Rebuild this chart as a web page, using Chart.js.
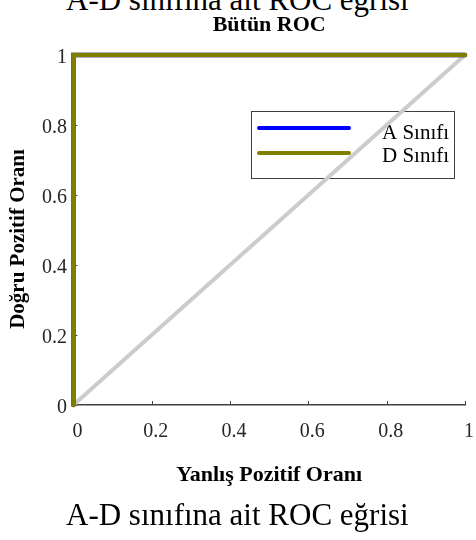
<!DOCTYPE html>
<html lang="tr">
<head>
<meta charset="utf-8">
<title>A-D sınıfına ait ROC eğrisi</title>
<script src="https://cdn.jsdelivr.net/npm/chart.js@4.4.1/dist/chart.umd.min.js"></script>
<style>
  body { margin: 0; background: #fff; }
  #wrap { position: relative; width: 476px; height: 540px; overflow: hidden; }
  #roc { position: absolute; left: 0; top: 0; }
  .caption {
    position: absolute; left: 66px; white-space: nowrap; color: #000;
    font: 31px/30px "Liberation Serif", "Times New Roman", serif;
  }
  #cap-top { top: -15px; }
  #cap-bottom { top: 500px; }
</style>
</head>
<body>
<div id="wrap">
  <div class="caption" id="cap-top">A-D sınıfına ait ROC eğrisi</div>
  <canvas id="roc" width="476" height="540"></canvas>
  <div class="caption" id="cap-bottom">A-D sınıfına ait ROC eğrisi</div>
</div>
<script>
const serif = '"Liberation Serif", "Times New Roman", serif';

// ROC eğrisi noktaları (yanlış pozitif oranı -> doğru pozitif oranı)
const fpr = [0, 0, 1];
const tprA = [0, 1, 1];
const tprD = [0, 1, 1];
// rastgele sınıflandırıcı köşegeni
const chanceX = [0, 1];
const chanceY = [0, 1];

const seriesNames = ["A Sınıfı", "D Sınıfı"];
const seriesColors = ["#0000ff", "#808000"];
const tickLabels = ["0", "0.2", "0.4", "0.6", "0.8", "1"];
const yTitle = "Doğru Pozitif Oranı";

const toPoints = (xs, ys) => xs.map((x, i) => ({ x, y: ys[i] }));

// eksenin içine bakan kısa çentikler
const innerTicks = {
  id: "innerTicks",
  beforeDatasetsDraw(chart) {
    const { ctx, chartArea, scales } = chart;
    ctx.save();
    ctx.strokeStyle = "#404040";
    ctx.lineWidth = 1;
    ctx.beginPath();
    scales.x.ticks.forEach((t) => {
      const px = Math.round(scales.x.getPixelForValue(t.value)) + 0.5;
      ctx.moveTo(px, chartArea.bottom);
      ctx.lineTo(px, chartArea.bottom - 4);
    });
    scales.y.ticks.forEach((t) => {
      const py = Math.round(scales.y.getPixelForValue(t.value)) + 0.5;
      ctx.moveTo(chartArea.left, py);
      ctx.lineTo(chartArea.left + 4, py);
    });
    ctx.stroke();
    ctx.restore();
  },
};

// dikey eksen başlığı, grafiğin ortasından biraz aşağıda
const yAxisTitle = {
  id: "yAxisTitle",
  afterDraw(chart) {
    const { ctx, chartArea } = chart;
    const cy = (chartArea.top + chartArea.bottom) / 2 + 9;
    ctx.save();
    ctx.translate(19, cy);
    ctx.rotate(-Math.PI / 2);
    ctx.font = `bold 21px ${serif}`;
    ctx.fillStyle = "#000";
    ctx.textAlign = "center";
    ctx.textBaseline = "middle";
    ctx.fillText(yTitle, 0, 0);
    ctx.restore();
  },
};

// çerçeveli lejant, çizgilerin altında kalıyor
const legendBox = {
  id: "legendBox",
  beforeDatasetsDraw(chart) {
    const ctx = chart.ctx;
    const box = { x: 251, y: 111, w: 203, h: 67 };
    ctx.save();
    ctx.strokeStyle = "#404040";
    ctx.lineWidth = 1;
    ctx.strokeRect(box.x + 0.5, box.y + 0.5, box.w, box.h);
    ctx.font = `21px ${serif}`;
    ctx.fillStyle = "#000";
    ctx.textBaseline = "middle";
    ctx.lineCap = "round";
    const items = chart.data.datasets.filter((d) => seriesNames.includes(d.label));
    items.forEach((ds, i) => {
      const lineY = box.y + 17 + i * 25;
      ctx.strokeStyle = ds.borderColor;
      ctx.lineWidth = 4;
      ctx.beginPath();
      ctx.moveTo(box.x + 8, lineY);
      ctx.lineTo(box.x + 98, lineY);
      ctx.stroke();
      ctx.fillText(ds.label, box.x + 131, box.y + 22 + i * 23);
    });
    ctx.restore();
  },
};

const lineStyle = {
  showLine: true,
  pointRadius: 0,
  fill: false,
  tension: 0,
  clip: false,
  borderJoinStyle: "miter",
  borderCapStyle: "round",
};

const noEdgePadding = (s) => {
  s.paddingLeft = 0;
  s.paddingRight = 0;
  s.paddingTop = 0;
  s.paddingBottom = 0;
};

new Chart(document.getElementById("roc"), {
  type: "scatter",
  data: {
    datasets: [
      { ...lineStyle, label: "chance", data: toPoints(chanceX, chanceY), borderColor: "#cccccc", borderWidth: 4, order: 3 },
      { ...lineStyle, label: seriesNames[0], data: toPoints(fpr, tprA), borderColor: seriesColors[0], borderWidth: 4.5, order: 2 },
      { ...lineStyle, label: seriesNames[1], data: toPoints(fpr, tprD), borderColor: seriesColors[1], borderWidth: 4.5, order: 1 },
    ],
  },
  options: {
    responsive: false,
    devicePixelRatio: 1,
    animation: false,
    layout: { padding: { top: 0, left: 0, right: 11, bottom: 0 } },
    plugins: {
      legend: { display: false },
      tooltip: { enabled: false },
      title: {
        display: true,
        text: "Bütün ROC",
        fullSize: false,
        color: "#000",
        font: { family: serif, size: 22, weight: "bold" },
        padding: { top: 12.2, bottom: 16.4 },
      },
    },
    scales: {
      x: {
        type: "linear",
        min: 0,
        max: 1,
        afterFit: (s) => { s.height = 135; noEdgePadding(s); },
        grid: { display: false, drawTicks: false },
        border: { display: true, color: "#404040", width: 1.5 },
        ticks: {
          stepSize: 0.2,
          autoSkip: false,
          maxRotation: 0,
          padding: 14.5,
          labelOffset: 4,
          color: "#262626",
          font: { family: serif, size: 20 },
          callback: (v, i) => tickLabels[i],
        },
        title: {
          display: true,
          text: "Yanlış Pozitif Oranı",
          color: "#000",
          font: { family: serif, size: 22, weight: "bold" },
          padding: { top: 0, bottom: 51.8 },
        },
      },
      y: {
        type: "linear",
        min: 0,
        max: 1,
        afterFit: (s) => { s.width = 73.4; noEdgePadding(s); },
        grid: { display: false, drawTicks: false },
        border: { display: true, color: "#404040", width: 1.5 },
        ticks: {
          stepSize: 0.2,
          autoSkip: false,
          padding: 6.4,
          labelOffset: 3,
          color: "#262626",
          font: { family: serif, size: 20 },
          callback: (v, i) => tickLabels[i],
        },
      },
    },
  },
  plugins: [innerTicks, legendBox, yAxisTitle],
});
</script>
</body>
</html>
